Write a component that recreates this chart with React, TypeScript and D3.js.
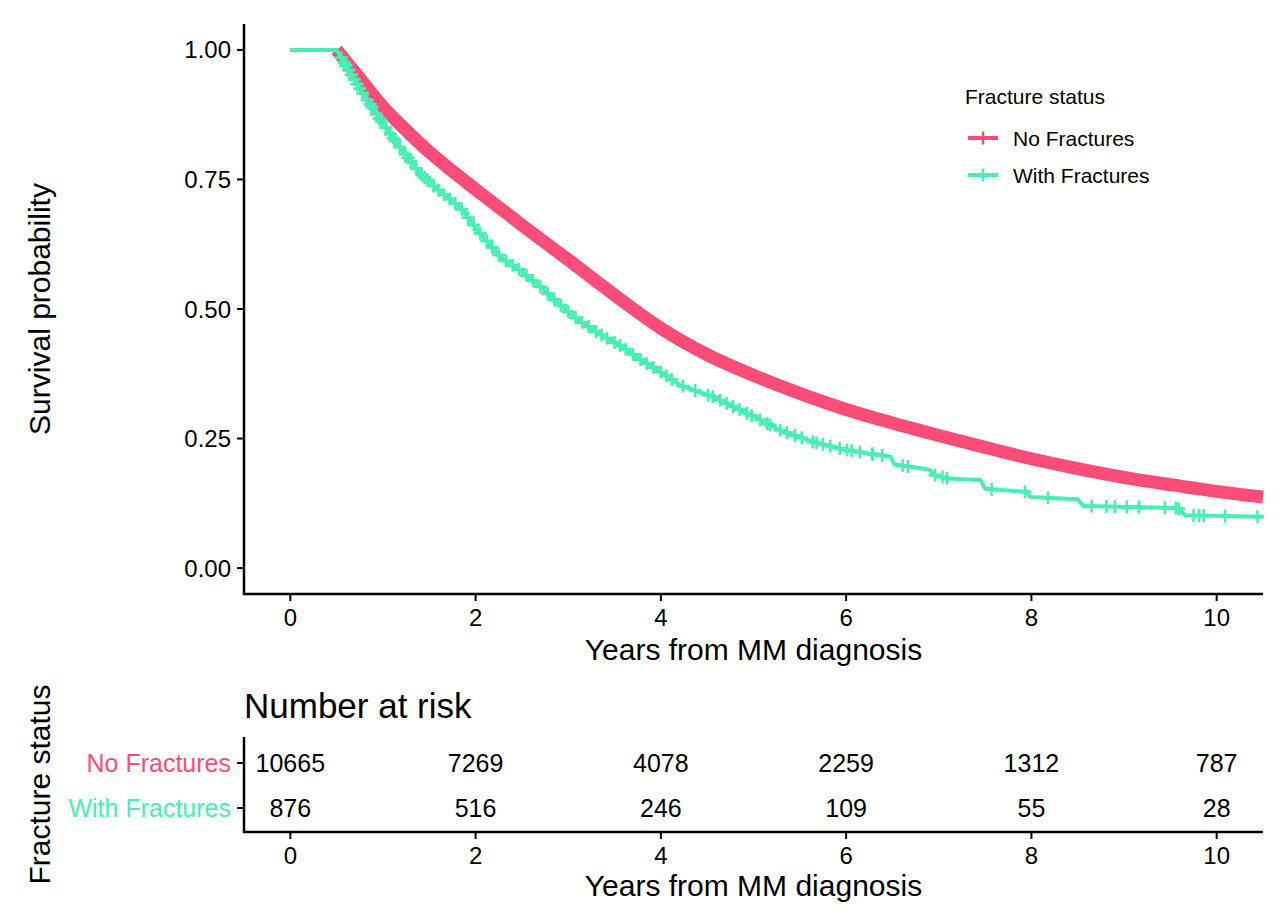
import * as d3 from 'd3';

// survival curves (years, probability)
const noFxTime = [0, 0.5, 0.75, 1.0, 1.25, 1.5, 1.75, 2.0, 2.5, 3.0, 3.5, 4.0, 4.5, 5.0, 5.5, 6.0, 6.5, 7.0, 7.5, 8.0, 8.5, 9.0, 9.5, 10.0, 10.5];
const noFxSurv = [1, 1, 0.945, 0.89, 0.845, 0.803, 0.766, 0.731, 0.662, 0.595, 0.527, 0.463, 0.412, 0.372, 0.337, 0.306, 0.28, 0.256, 0.233, 0.211, 0.192, 0.175, 0.161, 0.148, 0.137];

const withFxTime = [0, 0.5, 0.55, 0.75, 0.97, 1.19, 1.4, 1.62, 1.83, 2.05, 2.27, 2.48, 2.7, 2.9, 3.1, 3.34, 3.6, 3.8, 4.02, 4.21, 4.57, 4.93, 5.29, 5.65, 6.0, 6.36, 6.48, 6.52, 6.72, 6.9, 6.95, 7.1, 7.45, 7.5, 7.95, 7.99, 8.5, 8.56, 9.58, 9.66, 10.5];
const withFxSurv = [1, 1, 0.985, 0.925, 0.865, 0.81, 0.762, 0.726, 0.697, 0.646, 0.6, 0.575, 0.543, 0.51, 0.48, 0.452, 0.425, 0.4, 0.376, 0.353, 0.33, 0.299, 0.266, 0.243, 0.228, 0.218, 0.215, 0.2, 0.195, 0.19, 0.18, 0.173, 0.17, 0.153, 0.147, 0.137, 0.133, 0.12, 0.116, 0.102, 0.099];

// censoring marks of the fracture group
const withFxCensor = [0.55, 0.58, 0.6, 0.63, 0.66, 0.69, 0.72, 0.75, 0.78, 0.83, 0.86, 0.88, 0.93, 0.96, 0.98, 1.03, 1.08, 1.11, 1.13, 1.18, 1.24, 1.27, 1.3, 1.36, 1.42, 1.45, 1.48, 1.55, 1.6, 1.66, 1.72, 1.78, 1.85, 1.92, 1.98, 2.05, 2.12, 2.18, 2.25, 2.33, 2.4, 2.47, 2.55, 2.62, 2.7, 2.78, 2.85, 2.92, 3.0, 3.08, 3.15, 3.22, 3.3, 3.36, 3.42, 3.5, 3.56, 3.62, 3.7, 3.78, 3.85, 3.92, 4.0, 4.06, 4.12, 4.24, 4.37, 4.51, 4.56, 4.64, 4.71, 4.78, 4.85, 4.93, 4.98, 5.07, 5.15, 5.18, 5.29, 5.36, 5.45, 5.52, 5.64, 5.68, 5.75, 5.83, 5.93, 6.01, 6.06, 6.15, 6.28, 6.29, 6.39, 6.61, 6.67, 6.96, 7.04, 7.09, 7.57, 7.93, 8.18, 8.65, 8.81, 8.9, 9.03, 9.16, 9.44, 9.56, 9.59, 9.75, 9.81, 9.86, 10.09, 10.44];

const groups = ['No Fractures', 'With Fractures'];
const riskTimes = [0, 2, 4, 6, 8, 10];
const riskNoFx = [10665, 7269, 4078, 2259, 1312, 787];
const riskWithFx = [876, 516, 246, 109, 55, 28];
const xTicks = [0, 2, 4, 6, 8, 10];
const yTicks = [0, 0.25, 0.5, 0.75, 1];

const RED = '#FB4D78';
const GREEN = '#47EFB3';
const FONT = '"Liberation Sans", Arial, Helvetica, sans-serif';

function survAt(times: number[], surv: number[], t: number) {
  const i = d3.bisectRight(times, t);
  if (i <= 0) return surv[0];
  if (i >= times.length) return surv[surv.length - 1];
  const f = (t - times[i - 1]) / (times[i] - times[i - 1]);
  return surv[i - 1] + f * (surv[i] - surv[i - 1]);
}

export default function App() {
  const x = d3.scaleLinear().domain([-0.5, 10.5]).range([244, 1263]);
  const y = d3.scaleLinear().domain([-0.05, 1.05]).range([594, 24]);
  const rowY = d3.scalePoint<string>().domain(groups).range([763, 808]);
  const line = d3.line<[number, number]>().x(d => x(d[0])).y(d => y(d[1]));
  const smooth = d3.line<[number, number]>().x(d => x(d[0])).y(d => y(d[1])).curve(d3.curveMonotoneX);

  const red: [number, number][] = noFxTime.map((t, i) => [t, noFxSurv[i]]);
  const green: [number, number][] = withFxTime.map((t, i) => [t, withFxSurv[i]]);
  const redBand = red.filter(d => d[0] >= 0.5);

  const axisY0 = 594;
  const tableTop = 737;
  const tableBottom = 832;
  const mk = 6.5;

  return (
    <div style={{ position: 'absolute', left: 0, top: 0 }}>
      <svg width={1280} height={918} style={{ display: 'block', background: '#fff' }} fontFamily={FONT}>
        {/* curves */}
        <path d={line(red) ?? ''} fill="none" stroke={RED} strokeWidth={3.5} />
        <path d={smooth(redBand) ?? ''} fill="none" stroke={RED} strokeWidth={13} strokeLinejoin="round" />
        <path d={line(green) ?? ''} fill="none" stroke={GREEN} strokeWidth={4} strokeLinejoin="round" />
        {withFxCensor.map((t, i) => {
          const cx = x(t);
          const cy = y(survAt(withFxTime, withFxSurv, t));
          return (
            <g key={i} stroke={GREEN}>
              <line x1={cx} x2={cx} y1={cy - mk} y2={cy + mk} strokeWidth={2.5} />
              <line x1={cx - mk} x2={cx + mk} y1={cy} y2={cy} strokeWidth={3} />
            </g>
          );
        })}

        {/* main axes */}
        <line x1={244} x2={244} y1={24} y2={axisY0 + 1} stroke="#000" strokeWidth={2.5} />
        <line x1={243} x2={1263} y1={axisY0} y2={axisY0} stroke="#000" strokeWidth={2.5} />
        {yTicks.map(v => (
          <g key={v}>
            <line x1={237} x2={244} y1={y(v)} y2={y(v)} stroke="#000" strokeWidth={2} />
            <text x={231} y={y(v)} textAnchor="end" dominantBaseline="central" fontSize={24}>{v.toFixed(2)}</text>
          </g>
        ))}
        {xTicks.map(v => (
          <g key={v}>
            <line x1={x(v)} x2={x(v)} y1={axisY0} y2={axisY0 + 7} stroke="#000" strokeWidth={2} />
            <text x={x(v)} y={626} textAnchor="middle" fontSize={24}>{v}</text>
          </g>
        ))}
        <text x={x(5)} y={660} textAnchor="middle" fontSize={30}>Years from MM diagnosis</text>
        <text transform={`translate(50,${(24 + axisY0) / 2}) rotate(-90)`} textAnchor="middle" fontSize={30}>Survival probability</text>

        {/* legend */}
        <text x={965} y={104} fontSize={21}>Fracture status</text>
        {groups.map((g, i) => {
          const ly = 138 + i * 37;
          const c = i === 0 ? RED : GREEN;
          return (
            <g key={g}>
              <line x1={968} x2={998} y1={ly} y2={ly} stroke={c} strokeWidth={4} />
              <line x1={983} x2={983} y1={ly - mk} y2={ly + mk} stroke={c} strokeWidth={2.5} />
              <text x={1013} y={ly} dominantBaseline="central" fontSize={21}>{g}</text>
            </g>
          );
        })}

        {/* risk table */}
        <text x={244} y={718} fontSize={35}>Number at risk</text>
        <line x1={244} x2={244} y1={tableTop} y2={tableBottom + 1} stroke="#000" strokeWidth={2.5} />
        <line x1={243} x2={1263} y1={tableBottom} y2={tableBottom} stroke="#000" strokeWidth={2.5} />
        {groups.map((g, i) => (
          <g key={g}>
            <line x1={237} x2={244} y1={rowY(g)} y2={rowY(g)} stroke="#000" strokeWidth={2} />
            <text x={231} y={rowY(g)} textAnchor="end" dominantBaseline="central" fontSize={25} fill={i === 0 ? RED : GREEN}>{g}</text>
            {riskTimes.map((t, j) => (
              <text key={t} x={x(t)} y={rowY(g)} textAnchor="middle" dominantBaseline="central" fontSize={25}>
                {(i === 0 ? riskNoFx : riskWithFx)[j]}
              </text>
            ))}
          </g>
        ))}
        {xTicks.map(v => (
          <g key={v}>
            <line x1={x(v)} x2={x(v)} y1={tableBottom} y2={tableBottom + 7} stroke="#000" strokeWidth={2} />
            <text x={x(v)} y={864} textAnchor="middle" fontSize={24}>{v}</text>
          </g>
        ))}
        <text x={x(5)} y={896} textAnchor="middle" fontSize={30}>Years from MM diagnosis</text>
        <text transform={`translate(50,${(tableTop + tableBottom) / 2}) rotate(-90)`} textAnchor="middle" fontSize={30}>Fracture status</text>
      </svg>
    </div>
  );
}
